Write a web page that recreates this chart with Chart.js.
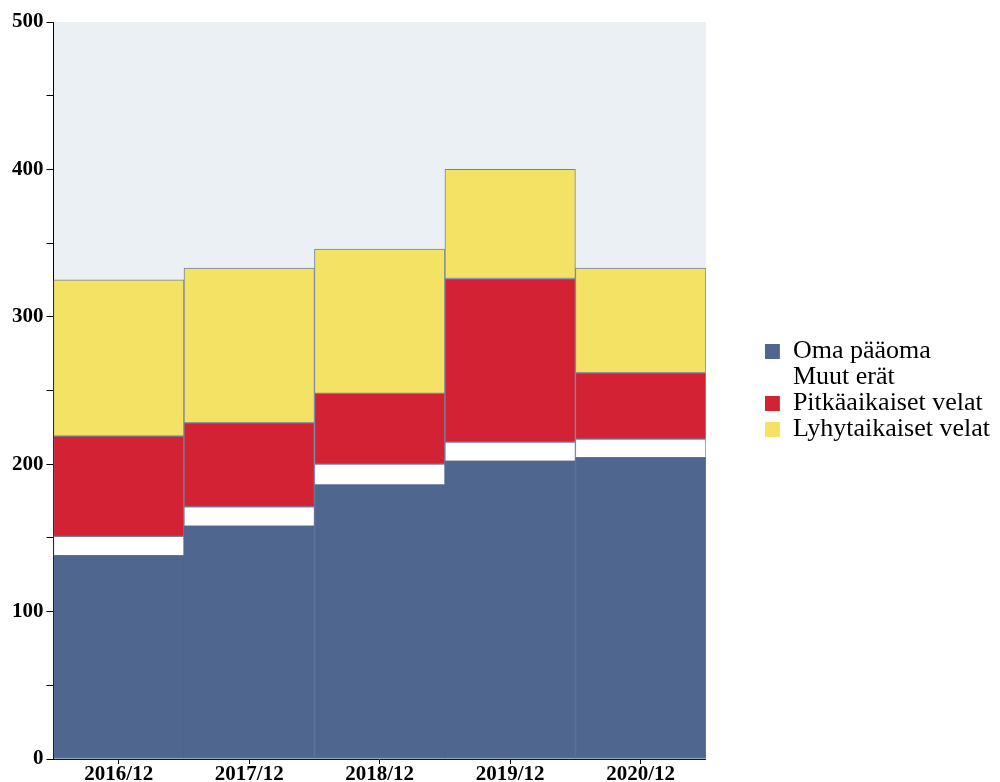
<!DOCTYPE html>
<html>
<head>
<meta charset="utf-8">
<script src="https://cdn.jsdelivr.net/npm/chart.js@4.4.0/dist/chart.umd.min.js"></script>
<style>
  html, body { margin: 0; padding: 0; background: #ffffff; }
  #wrap { width: 1000px; height: 782px; }
</style>
</head>
<body>
<div id="wrap"><canvas id="chart"></canvas></div>
<script>
var years = ['2016/12', '2017/12', '2018/12', '2019/12', '2020/12'];
var omaPaaoma = [138, 158, 186, 202, 204.5];
var muutErat = [13, 13, 14, 13, 12.5];
var pitkaaikaiset = [68, 57, 48, 111, 45];
var lyhytaikaiset = [106, 105, 98, 74, 71];
var yTicks = [0, 100, 200, 300, 400, 500];

var legendGap = 59;

var plotBackground = {
  id: 'plotBackground',
  beforeDraw: function (chart) {
    var area = chart.chartArea;
    var ctx = chart.ctx;
    ctx.save();
    ctx.fillStyle = '#ebf0f5';
    ctx.fillRect(area.left, area.top, area.right - area.left, area.bottom - area.top);
    ctx.restore();
  }
};

// leave empty space between the plot and the legend
var legendSpacing = {
  id: 'legendSpacing',
  beforeInit: function (chart) {
    var legend = chart.legend;
    var origFit = legend.fit;
    legend.fit = function () {
      origFit.call(this);
      this.width += legendGap;
    };
  },
  afterLayout: function (chart) {
    chart.legend.left += legendGap;
  }
};

function segment(label, values, color, edge) {
  return {
    label: label,
    data: values,
    backgroundColor: color,
    borderColor: edge || '#7383a3',
    borderWidth: 1,
    borderSkipped: false,
    barPercentage: 1,
    categoryPercentage: 1
  };
}

new Chart(document.getElementById('chart'), {
  type: 'bar',
  data: {
    labels: years,
    datasets: [
      segment('Oma pääoma', omaPaaoma, '#4f678f', '#4f678f'),
      segment('Muut erät', muutErat, '#ffffff'),
      segment('Pitkäaikaiset velat', pitkaaikaiset, '#d32233'),
      segment('Lyhytaikaiset velat', lyhytaikaiset, '#f4e264')
    ]
  },
  options: {
    responsive: true,
    maintainAspectRatio: false,
    animation: false,
    layout: { padding: { top: 22, left: 9, right: 0, bottom: -3 } },
    plugins: {
      tooltip: { enabled: false },
      legend: {
        position: 'right',
        fullSize: false,
        labels: {
          color: '#000000',
          font: { family: 'Liberation Serif', size: 26 },
          boxWidth: 15,
          boxHeight: 15,
          padding: 0,
          generateLabels: function (chart) {
            return chart.data.datasets.map(function (ds, i) {
              return {
                text: ds.label,
                fillStyle: ds.backgroundColor,
                strokeStyle: 'rgba(0,0,0,0)',
                lineWidth: 0,
                fontColor: '#000000',
                datasetIndex: i
              };
            });
          }
        }
      }
    },
    scales: {
      x: {
        stacked: true,
        border: { display: true, color: '#101828', width: 1 },
        grid: { offset: false, drawOnChartArea: false, color: '#000000', tickLength: 5 },
        ticks: {
          color: '#000000',
          padding: 0,
          font: { family: 'Liberation Serif', size: 21, weight: 'bold', lineHeight: 1 }
        }
      },
      y: {
        stacked: true,
        min: 0,
        max: 500,
        border: { display: true, color: '#000000', width: 1 },
        grid: { drawOnChartArea: false, color: '#000000', tickLength: 7 },
        ticks: {
          stepSize: 50,
          color: '#000000',
          padding: 3,
          font: { family: 'Liberation Serif', size: 21, weight: 'bold' },
          callback: function (value) {
            return yTicks.indexOf(value) >= 0 ? String(value) : '';
          }
        }
      }
    }
  },
  plugins: [plotBackground, legendSpacing]
});
</script>
</body>
</html>
